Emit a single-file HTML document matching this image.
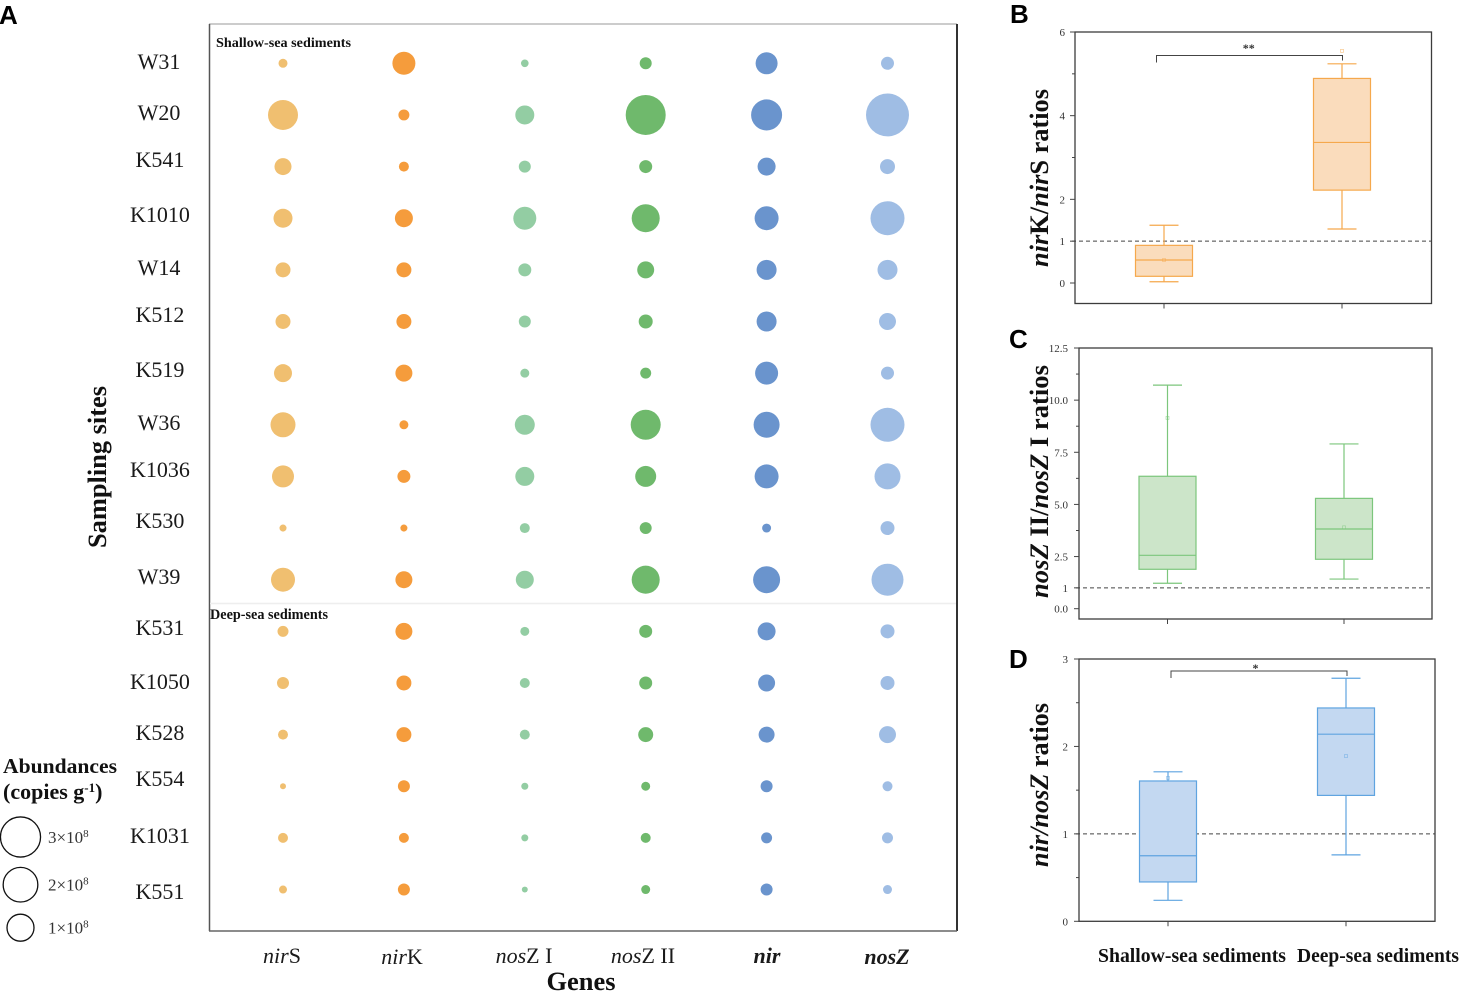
<!DOCTYPE html>
<html lang="en">
<head>
<meta charset="utf-8">
<title>Denitrification gene abundances and ratios</title>
<style>
html,body{margin:0;padding:0;background:#fff;width:1459px;height:991px;overflow:hidden}
svg{display:block}
text{font-family:"Liberation Serif",serif;fill:#111}
.letter{font-family:"Liberation Sans",sans-serif;font-weight:700;font-size:26px;fill:#000}
.site{font-size:22px;text-anchor:middle;fill:#1a1a1a}
.gene{font-size:22px;text-anchor:middle;fill:#1a1a1a}
.tick{font-size:11px;text-anchor:end;fill:#333}
.ytitle{font-size:26px;font-weight:700;text-anchor:middle;fill:#111}
.bold{font-weight:700}
.it{font-style:italic}
</style>
</head>
<body>
<svg id="fig" xmlns="http://www.w3.org/2000/svg" width="1459" height="991" viewBox="0 0 1459 991">
  <text class="letter" x="-1" y="24">A</text>
  <text class="letter" x="1010" y="23">B</text>
  <text class="letter" x="1009" y="348">C</text>
  <text class="letter" x="1009" y="668">D</text>

  <g id="panelA">
    <line x1="209" y1="24" x2="957" y2="24" stroke="#9a9a9a" stroke-width="1"/>
    <line x1="209.5" y1="24" x2="209.5" y2="931" stroke="#555" stroke-width="1.5"/>
    <line x1="957" y1="24" x2="957" y2="931" stroke="#333" stroke-width="2"/>
    <line x1="209" y1="931" x2="957" y2="931" stroke="#666" stroke-width="1.5"/>
    <line x1="210" y1="603.5" x2="956" y2="603.5" stroke="#eee" stroke-width="1.5"/>
    <text class="bold" x="216" y="47" font-size="14" textLength="135" lengthAdjust="spacingAndGlyphs">Shallow-sea sediments</text>
    <text class="bold" x="210" y="619" font-size="14.5" textLength="118" lengthAdjust="spacingAndGlyphs">Deep-sea sediments</text>
  </g>

  <g>
    <text class="site" x="159" y="69">W31</text>
    <text class="site" x="159" y="120">W20</text>
    <text class="site" x="160" y="167">K541</text>
    <text class="site" x="160" y="222">K1010</text>
    <text class="site" x="159" y="275">W14</text>
    <text class="site" x="160" y="322">K512</text>
    <text class="site" x="160" y="377">K519</text>
    <text class="site" x="159" y="430">W36</text>
    <text class="site" x="160" y="477">K1036</text>
    <text class="site" x="160" y="528">K530</text>
    <text class="site" x="159" y="584">W39</text>
    <text class="site" x="160" y="635">K531</text>
    <text class="site" x="160" y="689">K1050</text>
    <text class="site" x="160" y="740">K528</text>
    <text class="site" x="160" y="786">K554</text>
    <text class="site" x="160" y="843">K1031</text>
    <text class="site" x="160" y="899">K551</text>
  </g>

  <text class="bold" font-size="26" text-anchor="middle" transform="translate(106,467) rotate(-90)" textLength="162" lengthAdjust="spacingAndGlyphs">Sampling sites</text>

  <g>
    <text class="gene" x="282" y="963"><tspan class="it">nir</tspan>S</text>
    <text class="gene" x="402" y="964"><tspan class="it">nir</tspan>K</text>
    <text class="gene" x="524" y="963"><tspan class="it">nos</tspan>Z I</text>
    <text class="gene" x="643" y="963"><tspan class="it">nos</tspan>Z II</text>
    <text class="gene bold it" x="767" y="963">nir</text>
    <text class="gene bold it" x="887" y="964">nosZ</text>
  </g>
  <text class="bold" font-size="26" text-anchor="middle" x="581" y="990" textLength="69" lengthAdjust="spacingAndGlyphs">Genes</text>

  <g id="legend">
    <text class="bold" x="3" y="773" font-size="21" textLength="114" lengthAdjust="spacingAndGlyphs">Abundances</text>
    <text class="bold" x="3" y="799" font-size="22">(copies g<tspan font-size="13" dy="-7">-1</tspan><tspan dy="7">)</tspan></text>
  </g>

  <text class="ytitle" transform="translate(1048,178) rotate(-90)" textLength="178" lengthAdjust="spacingAndGlyphs"><tspan class="it">nir</tspan>K/<tspan class="it">nir</tspan>S ratios</text>
  <text class="ytitle" transform="translate(1048,481.5) rotate(-90)" textLength="233" lengthAdjust="spacingAndGlyphs"><tspan class="it">nos</tspan><tspan class="it">Z</tspan> II/<tspan class="it">nosZ</tspan> I ratios</text>
  <text class="ytitle" transform="translate(1048,785) rotate(-90)" textLength="164" lengthAdjust="spacingAndGlyphs"><tspan class="it">nir/nosZ</tspan> ratios</text>

  <text class="bold" x="1098" y="962" font-size="20" textLength="188" lengthAdjust="spacingAndGlyphs">Shallow-sea sediments</text>
  <text class="bold" x="1297" y="962" font-size="20" textLength="162" lengthAdjust="spacingAndGlyphs">Deep-sea sediments</text>
</svg>

<script>
// ---- Panel A data: abundance in units of 10^8 copies per gram ----
const sites = ["W31","W20","K541","K1010","W14","K512","K519","W36","K1036","K530","W39","K531","K1050","K528","K554","K1031","K551"];
const genes = ["nirS","nirK","nosZ I","nosZ II","nir","nosZ"];
const nirS   = [.047,1.34,.276,.377,.195,.195,.324,.807,.566,.024,.721,.082,.105,.063,.015,.063,.034];
const nirK   = [.641,.082,.063,.324,.195,.195,.276,.047,.131,.024,.276,.276,.195,.195,.105,.063,.105];
const nosZI  = [.030,.377,.105,.641,.131,.105,.047,.434,.377,.063,.324,.047,.063,.063,.024,.024,.015];
const nosZII = [.105,2.98,.131,1.11,.276,.161,.082,1.34,.497,.105,1.11,.131,.131,.195,.047,.063,.047];
const nir    = [.566,1.47,.324,.721,.434,.434,.641,.90,.721,.047,1,.324,.276,.233,.105,.082,.105];
const nosZ   = [.131,3.64,.195,1.90,.434,.276,.131,1.90,.90,.161,1.60,.161,.161,.276,.063,.082,.047];
const legendValues = [3,2,1];

// ---- Box plot data: [low whisker, Q1, median, Q3, high whisker, mean] ----
const bShallow = [0.03,0.16,0.55,0.90,1.38,0.55];
const bDeep    = [1.29,2.22,3.36,4.89,5.24,5.55];
const cShallow = [1.22,1.89,2.56,6.35,10.72,9.15];
const cDeep    = [1.42,2.37,3.82,5.29,7.90,3.90];
const dShallow = [0.24,0.45,0.75,1.605,1.71,1.64];
const dDeep    = [0.76,1.44,2.14,2.44,2.78,1.89];

const bTickValues = [0,1,2,4,6];
const bTickLabels = ["0","1","2","4","6"];
const bMinorTicks = [3,5];
const cTickValues = [0,1,2.5,5,7.5,10,12.5];
const cTickLabels = ["0.0","1","2.5","5.0","7.5","10.0","12.5"];
const cMinorTicks = [3.75,6.25,8.75,11.25];
const dTickValues = [0,1,2,3];
const dTickLabels = ["0","1","2","3"];
const dMinorTicks = [0.5,1.5,2.5];

const NS = "http://www.w3.org/2000/svg";
const fig = document.getElementById("fig");

function make(tag, attrs, parent) {
  const el = document.createElementNS(NS, tag);
  for (const k in attrs) el.setAttribute(k, attrs[k]);
  (parent || fig).appendChild(el);
  return el;
}

// ---- Bubble chart ----
const panelA = document.getElementById("panelA");
const legendG = document.getElementById("legend");
const geneSeries = [nirS, nirK, nosZI, nosZII, nir, nosZ];
const geneColors = ["#f0bf70","#f59c3c","#93cda3","#6fb96c","#6a94cd","#9fbde4"];

function geneX(j) { return 283 + j * 120.9; }
function siteY(i) { return 63.3 + i * 51.64; }
function sizeD(v) { return 27 * Math.pow(v, 0.36); }

geneSeries.forEach(function (series, j) {
  series.forEach(function (v, i) {
    const c = make("circle", {cx: geneX(j), cy: siteY(i), r: sizeD(v) / 2, fill: geneColors[j]}, panelA);
    
    
  });
});

legendValues.forEach(function (v, i) {
  const cy = [837, 884.7, 927.7][i];
  const c = make("circle", {cx: 20.5, cy: cy, r: sizeD(v) / 2, fill: "none", stroke: "#111", "stroke-width": 1.3}, legendG);
  
  
  const t = make("text", {x: 48, y: cy + 6, "font-size": 17}, legendG);
  t.style.fill = "#333";
  
  
  t.textContent = v + "×10";
  const s = make("tspan", {"font-size": 11, dy: -6}, t);
  s.textContent = "8";
});

// ---- Box plot panels ----
function drawPanel(p) {
  const g = make("g", {});
  
  

  function y(v) { return p.y0 + (v - 0) * (p.yTopVal - p.y0) / p.yMax; }

  // dashed reference line behind boxes
  const ref = make("line", {x1: p.left - 3, x2: p.right, y1: y(1), y2: y(1), stroke: "#444", "stroke-width": 1, "stroke-dasharray": "4 3"}, g);
  
  

  // boxes
  [p.shallow, p.deep].forEach(function (d, i) {
    const cx = p.centers[i];
    const group = i === 0 ? 'shallow' : 'deep';
    const w1 = make("line", {x1: cx, x2: cx, y1: y(d[0]), y2: y(d[1]), stroke: p.stroke, "stroke-width": 1.2}, g);
    
    
    const w2 = make("line", {x1: cx, x2: cx, y1: y(d[3]), y2: y(d[4]), stroke: p.stroke, "stroke-width": 1.2}, g);
    
    
    const c1 = make("line", {x1: cx - 14.5, x2: cx + 14.5, y1: y(d[0]), y2: y(d[0]), stroke: p.stroke, "stroke-width": 1.2}, g);
    
    
    const c2 = make("line", {x1: cx - 14.5, x2: cx + 14.5, y1: y(d[4]), y2: y(d[4]), stroke: p.stroke, "stroke-width": 1.2}, g);
    
    
    const box = make("rect", {x: cx - 28.5, width: 57, y: y(d[3]), height: y(d[1]) - y(d[3]), fill: p.fill, stroke: p.stroke, "stroke-width": 1.2}, g);
    
    
    const med = make("line", {x1: cx - 28.5, x2: cx + 28.5, y1: y(d[2]), y2: y(d[2]), stroke: p.stroke, "stroke-width": 1.2}, g);
    
    
    const mean = make("rect", {x: cx - 1.5, y: y(d[5]) - 1.5, width: 3, height: 3, fill: "none", stroke: p.stroke, "stroke-width": 0.6, opacity: 0.7}, g);
    
    
  });

  // frame
  const frame = make("rect", {x: p.left, y: p.top, width: p.right - p.left, height: p.bottom - p.top, fill: "none", stroke: "#3c3c3c", "stroke-width": 1.3}, g);
  
  

  // y ticks
  p.ticks.forEach(function (v, i) {
    const t = make("line", {x1: p.left - 5, x2: p.left, y1: y(v), y2: y(v), stroke: "#444", "stroke-width": 1}, g);
    
    
    const l = make("text", {x: p.left - p.labelGap, y: y(v) + 4, class: "tick"}, g);
    
    
    l.textContent = p.labels[i];
  });
  p.minor.forEach(function (v) {
    const t = make("line", {x1: p.left - 3, x2: p.left, y1: y(v), y2: y(v), stroke: "#444", "stroke-width": 1}, g);
    
    
  });
  // x ticks
  p.centers.forEach(function (cx) {
    const t = make("line", {x1: cx, x2: cx, y1: p.bottom, y2: p.bottom + 5, stroke: "#444", "stroke-width": 1}, g);
    
    
  });

  // significance bracket
  if (p.sig) {
    const s = p.sig;
    const br = make("path", {d: "M" + s.x1 + " " + s.yL + "V" + s.y + "H" + s.x2 + "V" + s.yR, fill: "none", stroke: "#444", "stroke-width": 1}, g);
    
    
    const st = make("text", {x: s.textX, y: s.textY, "text-anchor": "middle", "font-size": 12, class: "bold"}, g);
    st.style.fill = "#333";
    
    
    st.textContent = s.text;
  }
}

drawPanel({id: "b", left: 1075, right: 1431.5, top: 32, bottom: 303.5, y0: 283, yTopVal: 32, yMax: 6, labelGap: 10,
  centers: [1164, 1342], shallow: bShallow, deep: bDeep, ticks: bTickValues, labels: bTickLabels, minor: bMinorTicks,
  stroke: "#f5a84c", fill: "#fadcbc",
  sig: {x1: 1156.5, x2: 1342.5, y: 55.5, yL: 62.5, yR: 60.5, text: "**", textX: 1248.7, textY: 52}});

drawPanel({id: "c", left: 1079, right: 1432, top: 348, bottom: 619, y0: 608.7, yTopVal: 348, yMax: 12.5, labelGap: 11,
  centers: [1167.5, 1344], shallow: cShallow, deep: cDeep, ticks: cTickValues, labels: cTickLabels, minor: cMinorTicks,
  stroke: "#7cc67c", fill: "#cce5c9"});

drawPanel({id: "d", left: 1079, right: 1435, top: 659, bottom: 921.3, y0: 921.3, yTopVal: 659, yMax: 3, labelGap: 11,
  centers: [1168, 1346], shallow: dShallow, deep: dDeep, ticks: dTickValues, labels: dTickLabels, minor: dMinorTicks,
  stroke: "#5fa4e0", fill: "#c3d8f1",
  sig: {x1: 1171, x2: 1347, y: 671, yL: 678, yR: 676, text: "*", textX: 1255.5, textY: 672}});
</script>
</body>
</html>
